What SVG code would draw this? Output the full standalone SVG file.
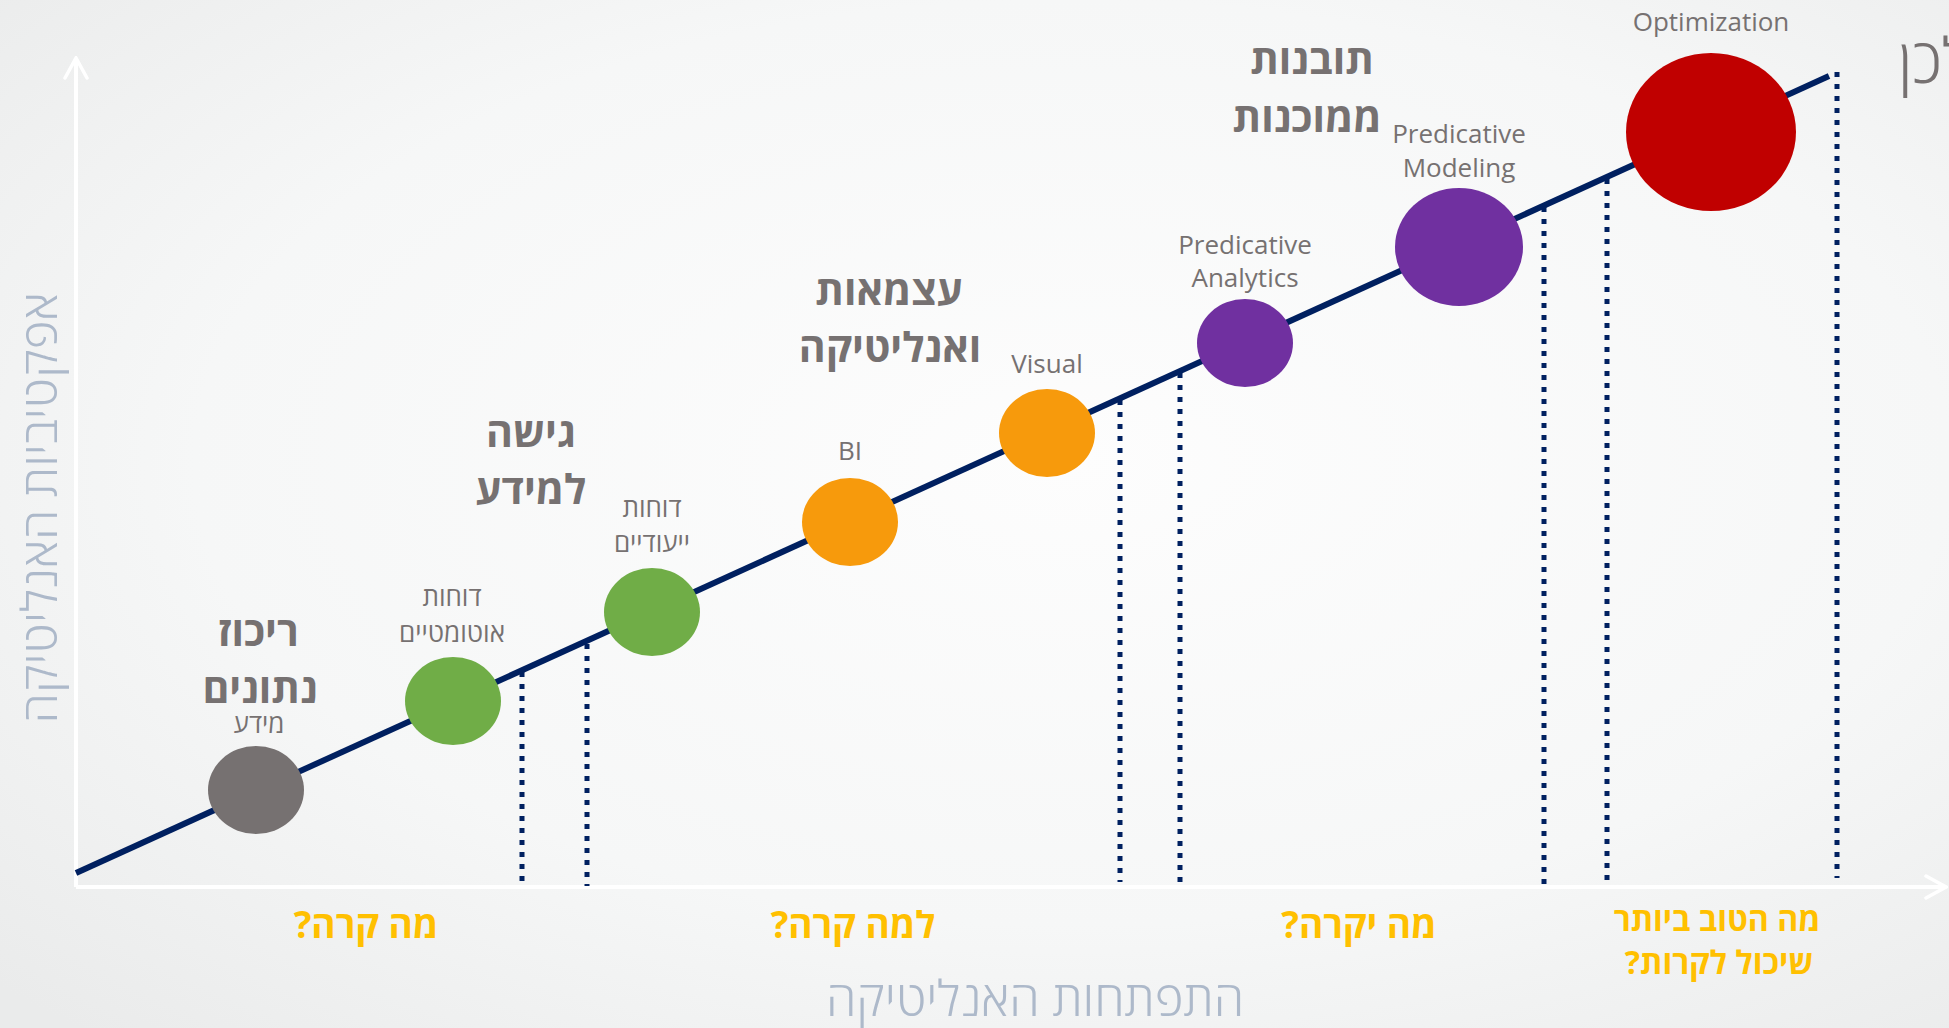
<svg xmlns="http://www.w3.org/2000/svg" width="1949" height="1028" viewBox="0 0 1949 1028">
<defs>
<radialGradient id="bg" cx="0.55" cy="0.45" r="0.75">
<stop offset="0" stop-color="#FDFDFD"/>
<stop offset="0.6" stop-color="#F6F7F7"/>
<stop offset="1" stop-color="#EAEBEB"/>
</radialGradient>
<marker id="arr" viewBox="-24 -13 26 26" refX="0" refY="0" markerWidth="26" markerHeight="26" markerUnits="userSpaceOnUse" orient="auto">
<path d="M-20,-11 L0,0 L-20,11" fill="none" stroke="#FFFFFF" stroke-width="3.5" stroke-linecap="round"/>
</marker>
<style>
text{font-family:"Open Sans","Liberation Sans","DejaVu Sans",sans-serif}
.he{direction:rtl}
.lbl{font-size:26px;fill:#767171;text-anchor:middle}
.stage{font-size:41px;font-weight:bold;fill:#767171;text-anchor:middle}
.q{font-size:37px;font-weight:bold;fill:#FFC000;text-anchor:middle}
.q2{font-size:32px;font-weight:bold;fill:#FFC000;text-anchor:middle}
.axis-title{font-size:49px;font-weight:300;fill:#ADB9CA;text-anchor:middle}
.axis{stroke:#FFFFFF;stroke-width:4;fill:none}
.trend{stroke:#002060;stroke-width:6;fill:none}
.dot{stroke:#002060;stroke-width:5;stroke-dasharray:5 7;fill:none}
</style>
</defs>
<rect x="0" y="0" width="1949" height="1028" fill="url(#bg)"/>

<g id="connectors">
<line class="axis" x1="76" y1="887" x2="76" y2="58" marker-end="url(#arr)"/>
<line class="axis" x1="76" y1="887" x2="1946" y2="887" marker-end="url(#arr)"/>
<line class="trend" x1="76" y1="873" x2="1829" y2="76"/>
<line class="dot" x1="522" y1="672" x2="522" y2="882"/>
<line class="dot" x1="587" y1="644" x2="587" y2="886"/>
<line class="dot" x1="1120" y1="400" x2="1120" y2="882"/>
<line class="dot" x1="1180" y1="373" x2="1180" y2="886"/>
<line class="dot" x1="1544" y1="207" x2="1544" y2="888"/>
<line class="dot" x1="1607" y1="179" x2="1607" y2="884"/>
<line class="dot" x1="1837" y1="72" x2="1837" y2="878"/>
</g>

<g id="node-data">
<ellipse cx="256" cy="790" rx="48" ry="44" fill="#767171"/>
<text class="lbl he" x="259" y="733">מידע</text>
</g>
<g id="node-auto-reports">
<ellipse cx="453" cy="701" rx="48" ry="44" fill="#70AD47"/>
<text class="lbl he" x="452" y="606">דוחות</text>
<text class="lbl he" x="452" y="642">אוטומטיים</text>
</g>
<g id="node-custom-reports">
<ellipse cx="652" cy="612" rx="48" ry="44" fill="#70AD47"/>
<text class="lbl he" x="652" y="517">דוחות</text>
<text class="lbl he" x="652" y="552">ייעודיים</text>
</g>
<g id="node-bi">
<ellipse cx="850" cy="522" rx="48" ry="44" fill="#F79A0C"/>
<text class="lbl" x="850" y="460">BI</text>
</g>
<g id="node-visual">
<ellipse cx="1047" cy="433" rx="48" ry="44" fill="#F79A0C"/>
<text class="lbl" x="1047" y="373">Visual</text>
</g>
<g id="node-pred-analytics">
<ellipse cx="1245" cy="343" rx="48" ry="44" fill="#7030A0"/>
<text class="lbl" x="1245" y="254">Predicative</text>
<text class="lbl" x="1245" y="287">Analytics</text>
</g>
<g id="node-pred-modeling">
<ellipse cx="1459" cy="247" rx="64" ry="59" fill="#7030A0"/>
<text class="lbl" x="1459" y="143">Predicative</text>
<text class="lbl" x="1459" y="177">Modeling</text>
</g>
<g id="node-optimization">
<ellipse cx="1711" cy="132" rx="85" ry="79" fill="#C00000"/>
<text class="lbl" x="1711" y="31">Optimization</text>
</g>

<g id="stage-titles">
<text class="stage he" x="258" y="646">ריכוז</text>
<text class="stage he" x="260" y="703">נתונים</text>
<text class="stage he" x="531" y="447">גישה</text>
<text class="stage he" x="531" y="504">למידע</text>
<text class="stage he" x="889" y="305">עצמאות</text>
<text class="stage he" x="890" y="362">ואנליטיקה</text>
<text class="stage he" x="1312" y="74">תובנות</text>
<text class="stage he" x="1307" y="132">ממוכנות</text>
</g>

<g id="questions">
<text class="q he" x="366" y="938">מה קרה?</text>
<text class="q he" x="853" y="938">למה קרה?</text>
<text class="q he" x="1359" y="938">מה יקרה?</text>
<text class="q2 he" x="1717" y="931">מה הטוב ביותר</text>
<text class="q2 he" x="1719" y="974">שיכול לקרות?</text>
</g>

<g id="axis-titles">
<text class="axis-title he" transform="translate(57,508) rotate(-90)" x="0" y="0">אפקטיביות האנליטיקה</text>
<text class="axis-title he" x="1035" y="1016">התפתחות האנליטיקה</text>
</g>

<text x="1898" y="83" font-size="62" font-weight="300" fill="#767171" text-anchor="start">לכן</text>
</svg>
